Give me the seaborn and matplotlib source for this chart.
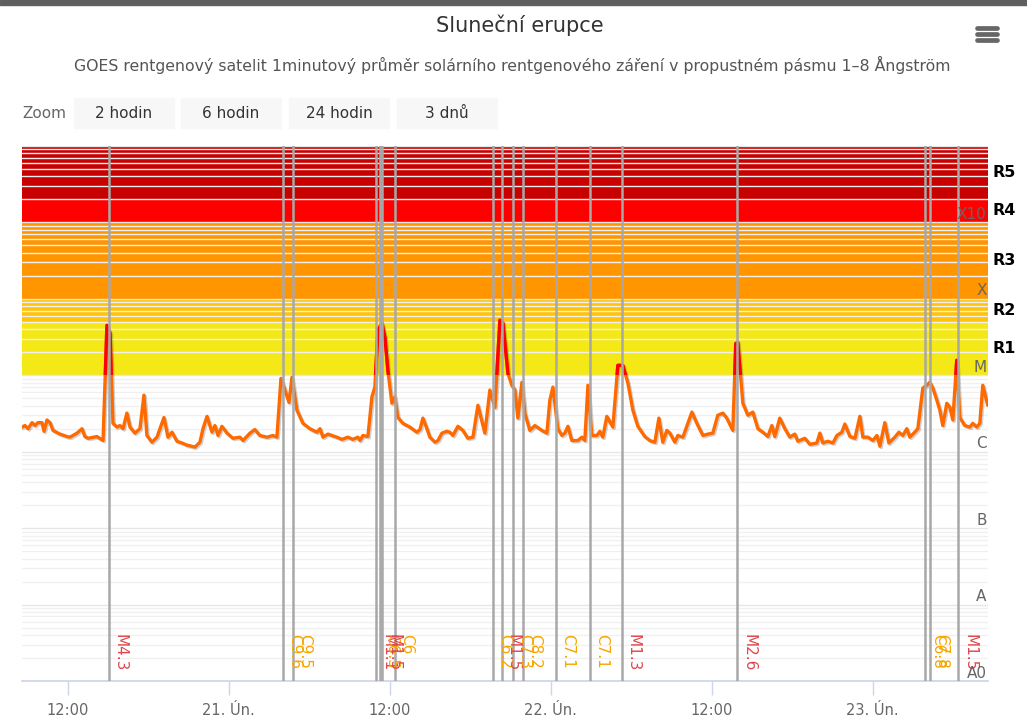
import numpy as np
import pandas as pd
import matplotlib
matplotlib.use("Agg")
import matplotlib.pyplot as plt
import matplotlib.dates as mdates
import matplotlib.patheffects as pe
from matplotlib.patches import Rectangle
from matplotlib.lines import Line2D
from matplotlib.ticker import LogLocator, NullFormatter, FuncFormatter
import seaborn as sns

# GOES 1-8 A flux, hours counted from 20 Feb 00:00
hours = [8.60, 8.82, 9.05, 9.35, 9.57, 9.79, 10.09, 10.24, 10.46, 10.69, 10.91, 11.43,
         11.95, 12.18, 12.70, 13.07, 13.29, 13.52, 14.19, 14.64, 14.93, 15.16, 15.38, 15.68,
         15.90, 16.13, 16.42, 16.65, 17.02, 17.39, 17.69, 17.91, 18.29, 18.66, 19.18, 19.48,
         19.78, 20.15, 20.52, 20.90, 21.49, 21.86, 22.09, 22.39, 22.76, 22.98, 23.21, 23.50,
         23.88, 24.32, 24.84, 25.07, 25.59, 25.96, 26.33, 26.86, 27.30, 27.60, 27.90, 28.20,
         28.50, 28.72, 29.09, 29.54, 30.06, 30.58, 30.81, 31.03, 31.40, 32.07, 32.45, 32.89,
         33.26, 33.64, 33.79, 34.01, 34.38, 34.68, 34.90, 35.13, 35.43, 35.65, 35.87, 36.17,
         36.39, 36.62, 36.99, 37.51, 38.03, 38.26, 38.48, 38.78, 39.00, 39.38, 39.60, 39.90,
         40.27, 40.49, 40.72, 41.09, 41.46, 41.83, 42.21, 42.58, 43.10, 43.47, 43.85, 44.22,
         44.45, 44.82, 45.11, 45.34, 45.56, 45.86, 46.08, 46.45, 46.83, 47.35, 47.72, 47.94,
         48.17, 48.54, 48.84, 49.06, 49.29, 49.58, 50.03, 50.33, 50.55, 50.78, 51.07, 51.45,
         51.67, 51.89, 52.19, 52.64, 53.01, 53.38, 53.76, 54.13, 54.50, 55.02, 55.40, 55.77,
         56.07, 56.36, 56.66, 56.89, 57.26, 57.48, 57.86, 58.53, 58.90, 59.35, 59.72, 60.09,
         60.46, 60.84, 61.13, 61.58, 61.80, 61.95, 62.33, 62.70, 63.07, 63.45, 63.82, 64.19,
         64.49, 64.71, 65.08, 65.46, 65.83, 66.20, 66.43, 66.95, 67.32, 67.84, 68.07, 68.29,
         68.66, 69.04, 69.34, 69.71, 69.93, 70.31, 70.68, 71.05, 71.27, 71.65, 72.02, 72.32,
         72.54, 72.91, 73.21, 73.66, 73.96, 74.25, 74.55, 74.77, 75.14, 75.37, 75.74, 76.04,
         76.26, 76.49, 76.79, 77.01, 77.23, 77.53, 77.76, 77.98, 78.27, 78.50, 78.87, 79.24,
         79.47, 79.76, 79.99, 80.21, 80.58]
flux = [2.1e-6, 2.2e-6, 2.0e-6, 2.4e-6, 2.2e-6, 2.4e-6, 2.4e-6, 1.85e-6, 2.6e-6, 2.4e-6, 1.9e-6, 1.7e-6,
        1.58e-6, 1.55e-6, 1.75e-6, 2.0e-6, 1.58e-6, 1.5e-6, 1.58e-6, 1.4e-6, 4.5e-5, 3.55e-5, 2.35e-6, 2.1e-6,
        2.2e-6, 2.0e-6, 3.2e-6, 2.1e-6, 1.75e-6, 2.0e-6, 5.5e-6, 1.63e-6, 1.33e-6, 1.55e-6, 2.8e-6, 1.55e-6,
        1.8e-6, 1.37e-6, 1.3e-6, 1.22e-6, 1.15e-6, 1.33e-6, 2.0e-6, 2.9e-6, 1.8e-6, 2.2e-6, 1.63e-6, 2.15e-6,
        1.75e-6, 1.5e-6, 1.55e-6, 1.4e-6, 1.75e-6, 1.95e-6, 1.63e-6, 1.55e-6, 1.63e-6, 1.55e-6, 9.1e-6, 6.4e-6,
        4.4e-6, 9.4e-6, 3.5e-6, 2.35e-6, 2.0e-6, 1.8e-6, 2.0e-6, 1.55e-6, 1.7e-6, 1.55e-6, 1.45e-6, 1.55e-6,
        1.45e-6, 1.55e-6, 1.4e-6, 1.63e-6, 1.58e-6, 5.2e-6, 7.0e-6, 3.9e-5, 4.8e-5, 3.15e-5, 1.16e-5, 4.3e-6,
        5.2e-6, 2.8e-6, 2.35e-6, 2.1e-6, 1.8e-6, 1.95e-6, 2.75e-6, 2.0e-6, 1.55e-6, 1.33e-6, 1.4e-6, 1.75e-6,
        1.85e-6, 1.8e-6, 1.63e-6, 2.15e-6, 1.9e-6, 1.5e-6, 1.55e-6, 4.05e-6, 1.75e-6, 6.4e-6, 3.8e-6, 5.25e-5,
        4.8e-5, 1.05e-5, 7.4e-6, 6.4e-6, 2.75e-6, 8.1e-6, 3.2e-6, 1.9e-6, 2.2e-6, 1.9e-6, 1.75e-6, 4.7e-6,
        7.0e-6, 2.0e-6, 1.63e-6, 1.75e-6, 2.15e-6, 1.4e-6, 1.4e-6, 1.55e-6, 1.4e-6, 7.4e-6, 1.63e-6, 1.63e-6,
        1.85e-6, 1.55e-6, 2.9e-6, 2.1e-6, 1.35e-5, 1.35e-5, 7.9e-6, 3.5e-6, 2.15e-6, 1.58e-6, 1.4e-6, 1.33e-6,
        2.75e-6, 1.33e-6, 1.9e-6, 1.75e-6, 1.33e-6, 1.63e-6, 1.55e-6, 3.3e-6, 2.35e-6, 1.63e-6, 1.7e-6, 1.75e-6,
        3.0e-6, 3.2e-6, 2.75e-6, 1.9e-6, 2.6e-5, 2.7e-5, 4.3e-6, 3.0e-6, 3.3e-6, 2.0e-6, 1.8e-6, 1.58e-6,
        2.2e-6, 1.58e-6, 2.75e-6, 2.0e-6, 1.55e-6, 1.7e-6, 1.37e-6, 1.5e-6, 1.25e-6, 1.3e-6, 1.75e-6, 1.3e-6,
        1.37e-6, 1.3e-6, 1.63e-6, 1.8e-6, 2.3e-6, 1.58e-6, 1.5e-6, 2.9e-6, 1.55e-6, 1.55e-6, 1.4e-6, 1.63e-6,
        1.18e-6, 2.4e-6, 1.3e-6, 1.55e-6, 1.8e-6, 1.63e-6, 2.0e-6, 1.55e-6, 1.8e-6, 2.0e-6, 6.8e-6, 7.4e-6,
        8.1e-6, 6.8e-6, 4.7e-6, 3.5e-6, 2.2e-6, 4.3e-6, 3.8e-6, 2.6e-6, 1.57e-5, 2.8e-6, 2.2e-6, 2.1e-6,
        2.35e-6, 2.1e-6, 2.35e-6, 7.4e-6, 4.05e-6]

# flare events (hours from 20 Feb 00:00) and their class
flare_hours = [15.06, 28.07, 28.77, 34.98, 35.28, 35.45, 36.39, 43.72, 44.35, 45.21, 45.96,
               48.39, 50.93, 53.29, 61.90, 75.94, 76.31, 78.37]
flare_class = ["M4.3", "C9.6", "C9.5", "M1.1", "C6.5", "M1.5", "C6", "C6.2", "M1.5", "C7.3", "C8.2",
               "C7.1", "C7.1", "M1.3", "M2.6", "C6.8", "C7.8", "M1.5"]

class_levels = [1e-9, 1e-8, 1e-7, 1e-6, 1e-5, 1e-4, 1e-3]
class_names = ["A0", "A", "B", "C", "M", "X", "X10"]

radio_bands = [(1e-5, 5e-5), (5e-5, 1e-4), (1e-4, 1e-3), (1e-3, 2e-3), (2e-3, 1e-2)]
radio_names = ["R1", "R2", "R3", "R4", "R5"]
radio_colors = ["#f4e817", "#ffc40a", "#ff9600", "#ff0000", "#c80000"]

buttons = ["2 hodin", "6 hodin", "24 hodin", "3 dnů"]

start = pd.Timestamp("2023-02-20")
df = pd.DataFrame({"time": start + pd.to_timedelta(hours, unit="h"), "flux": flux})
flare_times = start + pd.to_timedelta(flare_hours, unit="h")

sns.set_theme(style="white")
plt.rcParams["font.family"] = ["DejaVu Sans"]

fig = plt.figure(figsize=(10.27, 7.24), dpi=100)
ax = fig.add_axes([22 / 1027, 1 - 681 / 724, 966 / 1027, 535 / 724])

# radio blackout bands
for (lo, hi), c in zip(radio_bands, radio_colors):
    ax.axhspan(lo, hi, color=c, lw=0, zorder=0.1)

# the series, orange, red above M level
sns.lineplot(data=df, x="time", y="flux", ax=ax, color="#ff6a00", lw=2.4, zorder=2,
             path_effects=[pe.SimpleLineShadow(offset=(1, -1), alpha=0.18, shadow_color="black"),
                           pe.Normal()])
red = ax.plot(df["time"], df["flux"], color="#ff0000", lw=2.4, zorder=2.1)[0]

ax.set_yscale("log")
ax.set_ylim(1e-9, 1e-2)
xmin = start + pd.Timedelta(hours=8.6)
xmax = start + pd.Timedelta(hours=80.6)
ax.set_xlim(xmin, xmax)

clip = Rectangle((mdates.date2num(xmin), 1e-5), 10, 1.0, transform=ax.transData)
red.set_clip_path(clip)

# flare markers
for t in flare_times:
    ax.axvline(t, color="#a8a8a8", lw=1.8, zorder=3)
for t, name in zip(flare_times, flare_class):
    col = "#e0474c" if name.startswith("M") else "#f7a600"
    ax.annotate(name, xy=(t, 4.1e-9), xytext=(3, 0), textcoords="offset points",
                rotation=-90, ha="left", va="top", fontsize=11, color=col, zorder=4)

# grid
ax.yaxis.set_major_locator(LogLocator(base=10, numticks=20))
ax.yaxis.set_minor_locator(LogLocator(base=10, subs=np.arange(2, 10), numticks=100))
ax.yaxis.set_major_formatter(NullFormatter())
ax.yaxis.set_minor_formatter(NullFormatter())
ax.set_axisbelow(True)
ax.grid(which="major", axis="y", color="#e6e6e6", lw=1)
ax.grid(which="minor", axis="y", color="#f0f0f0", lw=1)
ax.grid(which="major", axis="x", visible=False)
ax.tick_params(axis="y", which="both", length=0)

for v, name in zip(class_levels, class_names):
    ax.annotate(name, xy=(1.0, v), xycoords=("axes fraction", "data"), xytext=(-1, 2.5),
                textcoords="offset points", ha="right", va="baseline", fontsize=11,
                color="#666666", zorder=5)

for (lo, hi), name in zip(radio_bands, radio_names):
    ax.annotate(name, xy=(1.0, np.sqrt(lo * hi)), xycoords=("axes fraction", "data"),
                xytext=(3, 0), textcoords="offset points", ha="left", va="center",
                fontsize=11.5, fontweight="bold", color="black", annotation_clip=False)

# x axis
def fmt_date(x, pos):
    d = mdates.num2date(x)
    if d.hour == 0:
        return f"{d.day}. Ún."
    return d.strftime("%H:%M")

ax.xaxis.set_major_locator(mdates.HourLocator(byhour=[0, 12]))
ax.xaxis.set_major_formatter(FuncFormatter(fmt_date))
ax.tick_params(axis="x", length=10, width=1, color="#ccd6eb", labelsize=10.5,
               labelcolor="#666666", pad=6, bottom=True)
for s in ["top", "left", "right"]:
    ax.spines[s].set_visible(False)
ax.spines["bottom"].set_color("#ccd6eb")
ax.set_xlabel("")
ax.set_ylabel("")

# header
fig.patches.append(Rectangle((0, 1 - 5 / 724), 1, 5 / 724, transform=fig.transFigure,
                             color="#5f5f5f", zorder=10))
fig.text(520 / 1027, 1 - 25 / 724, "Sluneční erupce", ha="center", va="center",
         fontsize=15, color="#333333")
fig.text(512 / 1027, 1 - 65 / 724,
         "GOES rentgenový satelit 1minutový průměr solárního rentgenového záření v propustném pásmu 1–8 Ångström",
         ha="center", va="center", fontsize=11.3, color="#555555")

for yy in [28, 34, 40]:
    fig.add_artist(Line2D([977 / 1027, 997 / 1027], [1 - yy / 724, 1 - yy / 724], lw=3.4,
                          color="#666666", solid_capstyle="round", transform=fig.transFigure))

fig.text(22 / 1027, 1 - 113 / 724, "Zoom", ha="left", va="center", fontsize=11, color="#666666")
bx = [74, 181, 289, 397]
for x0, label in zip(bx, buttons):
    fig.patches.append(Rectangle((x0 / 1027, 1 - 128 / 724), 100 / 1027, 30 / 724,
                                 transform=fig.transFigure, color="#f7f7f7", zorder=1))
    fig.text((x0 + 50) / 1027, 1 - 113 / 724, label, ha="center", va="center",
             fontsize=11, color="#333333")

fig.savefig("out.png", dpi=100)
